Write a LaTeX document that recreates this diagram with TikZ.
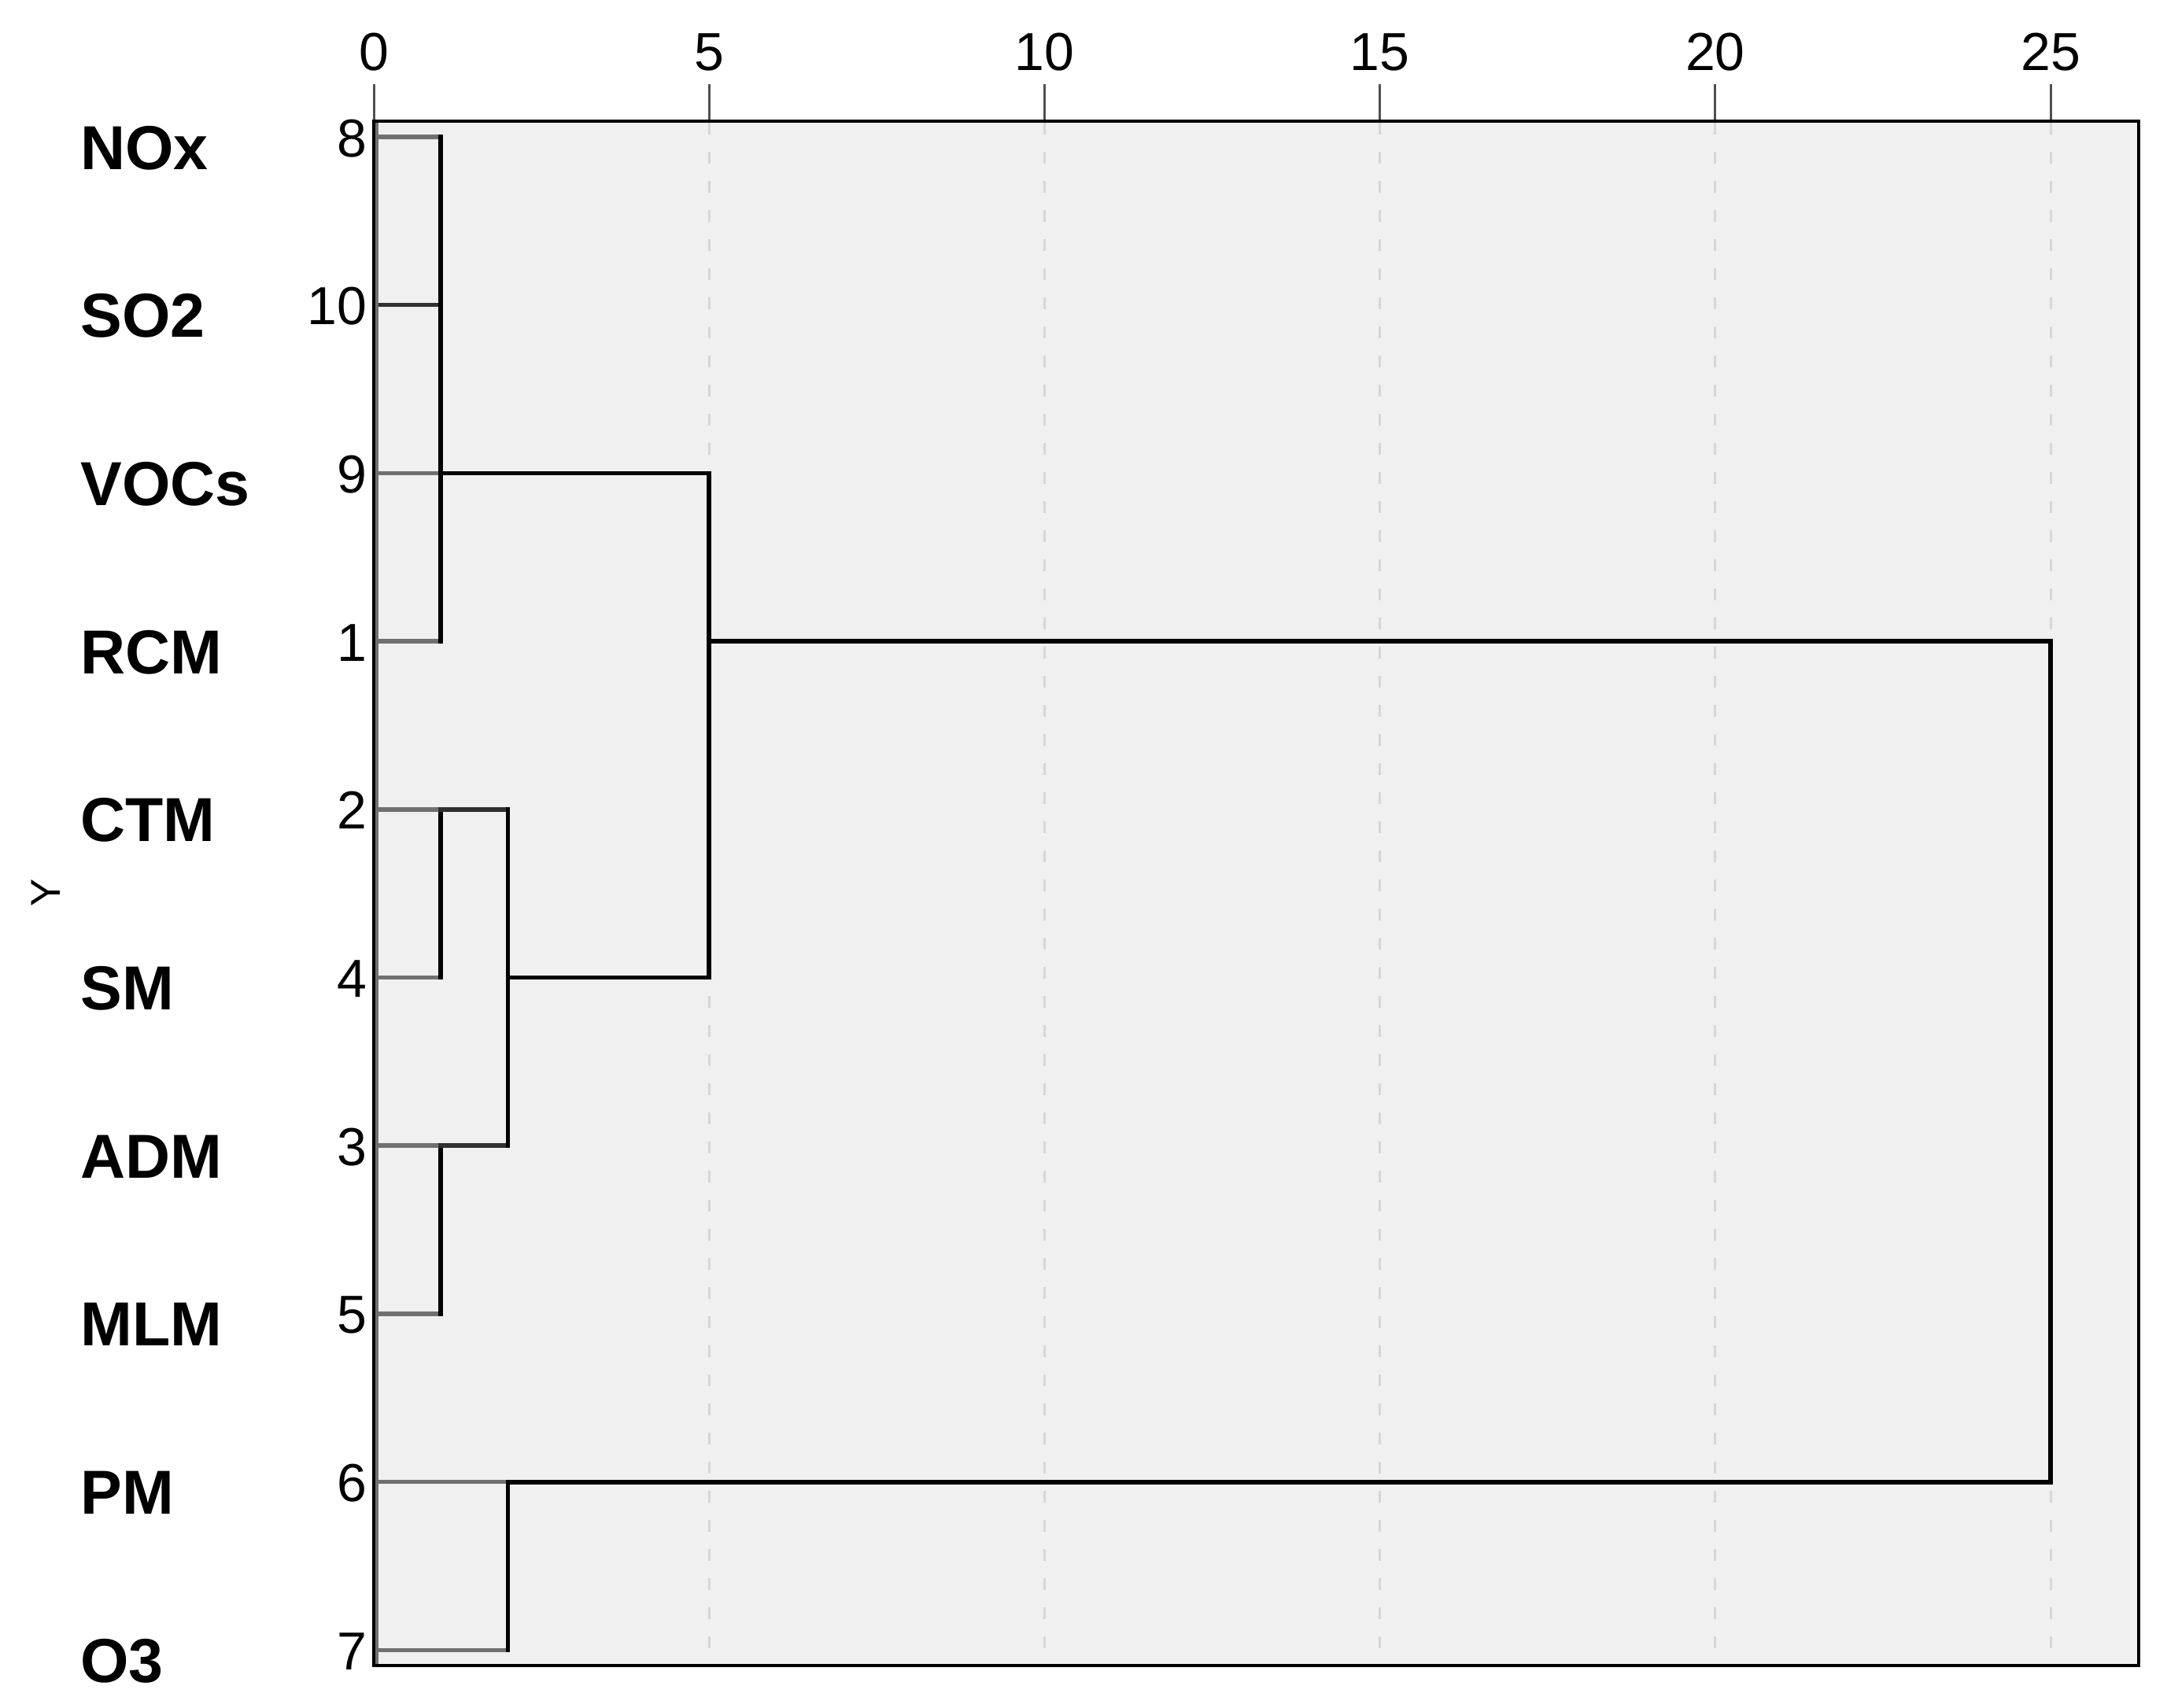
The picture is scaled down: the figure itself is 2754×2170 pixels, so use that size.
\documentclass[tikz,border=0pt]{standalone}
\usepackage{fontspec}
\setmainfont{Liberation Sans}
\definecolor{bgfill}{HTML}{F0F0F0}
\definecolor{leafgray}{HTML}{707070}
\definecolor{gridgray}{HTML}{D6D6D6}
\definecolor{darkgray}{HTML}{303030}
\definecolor{tickgray}{HTML}{505050}
\begin{document}
\begin{tikzpicture}[x=0.5pt,y=-0.5pt,
  leaf/.style={draw=leafgray,line width=2.75pt},
  darkleaf/.style={draw=darkgray,line width=2.75pt},
  link/.style={draw=black,line width=2.9pt,line cap=rect,line join=miter},
  gridline/.style={draw=gridgray,line width=1.5pt,dash pattern=on 7.5pt off 11pt},
  tickline/.style={draw=tickgray,line width=1.5pt},
  lab/.style={inner sep=0pt,font=\fontsize{39.5}{39.5}\selectfont\bfseries,anchor=base west},
  num/.style={inner sep=0pt,font=\fontsize{34}{34}\selectfont,anchor=base east},
  ticklab/.style={inner sep=0pt,font=\fontsize{34}{34}\selectfont,anchor=base}]
\useasboundingbox (0,0) rectangle (2754,2170);
% plot area
\fill[bgfill] (475,154) rectangle (2718,2117);
% grid and ticks
\foreach \v in {5,10,...,25}{
  \draw[gridline] ({475+85.24*\v},156) -- ({475+85.24*\v},2115);
}
\foreach \v in {0,5,...,25}{
  \node[ticklab] (t\v) at ({475+85.24*\v},89) {\v};
  \draw[tickline] ({475+85.24*\v},107) -- ({475+85.24*\v},154);
}
% column coordinates
\coordinate (c1) at (560.2,0);
\coordinate (c2) at (645.5,0);
\coordinate (c5) at (901.2,0);
\coordinate (c25) at (2606,0);
% rows
\foreach \i/\name/\k in {0/NOx/8,1/SO2/10,2/VOCs/9,3/RCM/1,4/CTM/2,5/SM/4,6/ADM/3,7/MLM/5,8/PM/6,9/O3/7}{
  \node[lab] (n\i) at (102,{174+213.7*\i+41}) {\name};
  \node[num] (k\i) at (467,{174+213.7*\i+25}) {\k};
  \coordinate (y\i) at (477,{174+213.7*\i});
}
% leaves
\draw[leaf] (y0) -- (c1 |- y0);
\draw[darkleaf] (y1) -- (c1 |- y1);
\draw[leaf] (y2) -- (c1 |- y2);
\draw[leaf] (y3) -- (c1 |- y3);
\draw[leaf] (y4) -- (c1 |- y4);
\draw[leaf] (y5) -- (c1 |- y5);
\draw[leaf] (y6) -- (c1 |- y6);
\draw[leaf] (y7) -- (c1 |- y7);
\draw[leaf] (y8) -- (c2 |- y8);
\draw[leaf] (y9) -- (c2 |- y9);
% links
\draw[link] (c1 |- y0) -- (c1 |- y3);
\draw[link] (c1 |- y4) -- (c1 |- y5);
\draw[link] (c1 |- y6) -- (c1 |- y7);
\draw[link,draw=darkgray] (c1 |- y4) -- (c2 |- y4);
\draw[link,draw=darkgray] (c1 |- y6) -- (c2 |- y6);
\draw[link] (c2 |- y4) -- (c2 |- y6);
\draw[link] (c1 |- y2) -- (c5 |- y2) -- (c5 |- y5) -- (c2 |- y5);
\draw[link] (c5 |- y3) -- (c25 |- y3) -- (c25 |- y8) -- (c2 |- y8) -- (c2 |- y9);
% frame
\draw[line width=1.75pt] (475,154) rectangle (2718,2117);
\draw[leafgray,line width=2pt] (478.5,156) -- (478.5,2115);
% axis title
\node[rotate=90,inner sep=0pt,font=\fontsize{26.5}{26.5}\selectfont] (ylab) at (58,1135) {Y};
\end{tikzpicture}
\end{document}
